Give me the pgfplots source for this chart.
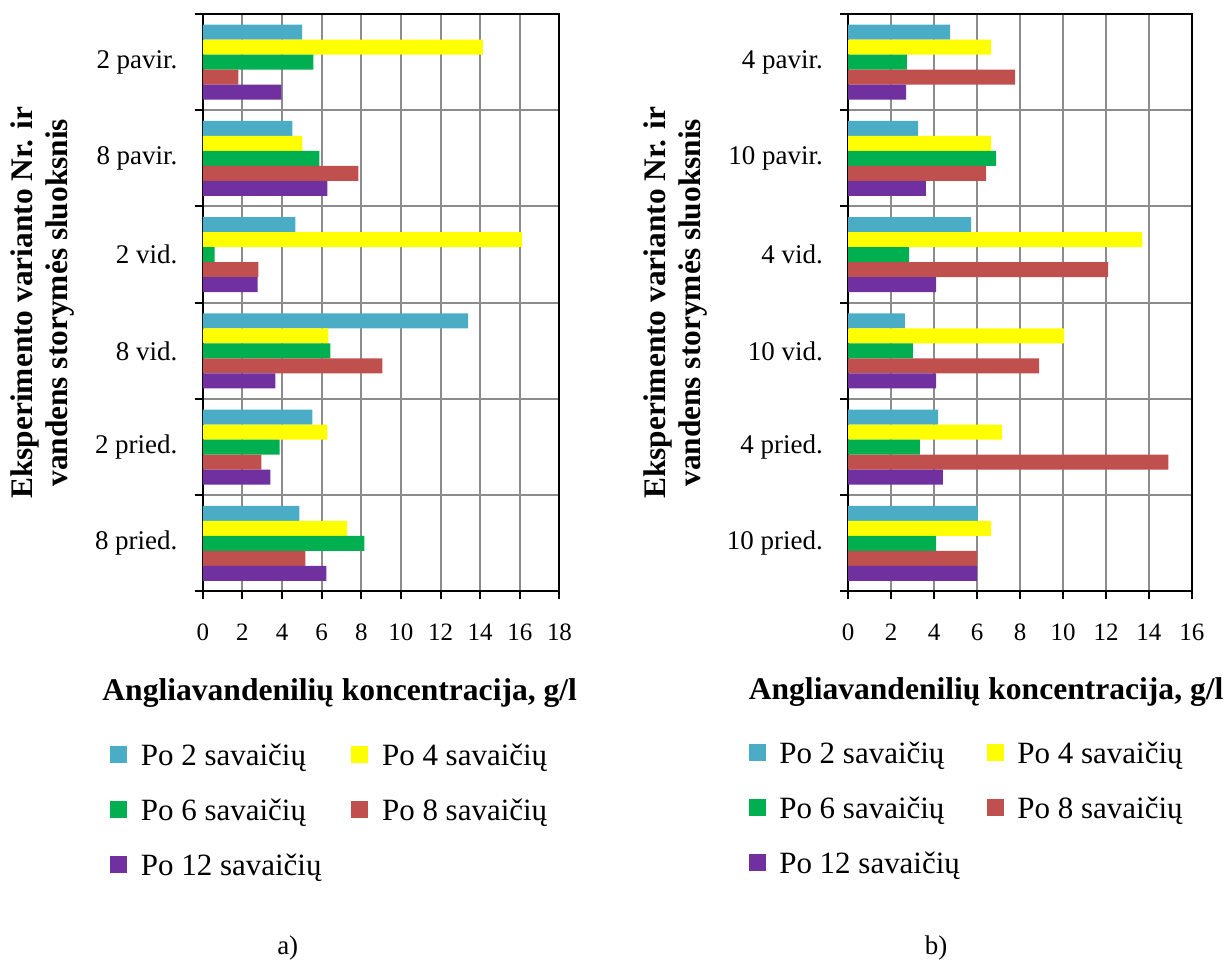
\documentclass[border=0pt]{standalone}
\usepackage{fontspec}
\setmainfont{Liberation Serif}
\usepackage{pgfplots}
\pgfplotsset{compat=1.18}
\usepackage{pgfplotstable}

\definecolor{cA}{HTML}{4BACC6}
\definecolor{cB}{HTML}{FFFF00}
\definecolor{cC}{HTML}{00B050}
\definecolor{cD}{HTML}{C0504D}
\definecolor{cE}{HTML}{7030A0}
\definecolor{gridgray}{HTML}{8C8C8C}

\pgfplotstableread{
y s2 s4 s6 s8 s12
5 5.01 14.13 5.58 1.80 3.97
4 4.52 5.03 5.88 7.85 6.29
3 4.67 16.12 0.59 2.81 2.76
2 13.39 6.34 6.44 9.06 3.66
1 5.53 6.29 3.87 2.96 3.41
0 4.87 7.28 8.15 5.18 6.24
}\lefttab

\pgfplotstableread{
y s2 s4 s6 s8 s12
5 4.74 6.65 2.73 7.77 2.69
4 3.25 6.65 6.88 6.42 3.62
3 5.72 13.69 2.83 12.10 4.09
2 2.64 10.05 3.01 8.89 4.09
1 4.18 7.16 3.34 14.90 4.41
0 6.04 6.65 4.09 6.00 6.00
}\righttab

\pgfplotsset{
  barstyle/.style={
    xbar, scale only axis, height=289pt,
    ymin=-0.5, ymax=5.5, bar width=0.156,
    ytick={-0.5,0.5,...,5.5}, yticklabels={},
    ymajorgrids, xmajorgrids,
    grid style={line width=1pt, color=gridgray},
    axis line style={line width=1pt, black},
    tick align=outside, major tick length=4pt,
    xtick pos=bottom, ytick pos=left,
    tick style={black, line width=1pt},
    /pgf/number format/assume math mode=true,
    xticklabel style={font=\fontsize{12.5}{15}\selectfont, inner sep=0pt, anchor=north, yshift=-12pt},
    extra y ticks={0,1,2,3,4,5},
    extra y tick style={major tick length=0pt, tick style={draw=none}, grid=none,
      yticklabel style={font=\fontsize{13.5}{15}\selectfont, inner sep=0pt, anchor=east, xshift=-12.5pt}},
    legend columns=2, legend cell align=left,
    legend image code/.code={\fill[##1] (0pt,-4.25pt) rectangle (8.5pt,4.25pt);},
    legend style={draw=none, fill=none, inner sep=0pt, anchor=north west,
      nodes={inner sep=0pt, anchor=west, font=\fontsize{15.5}{18}\selectfont, text height=12.5pt, text depth=2pt},
      row sep=13pt,
      /tikz/every odd column/.append style={column sep=6.8pt}},
  }
}

\begin{document}
\begin{tikzpicture}[x=1pt,y=1pt]
\path (0,0) rectangle (615,481.5);

\begin{axis}[barstyle, at={(101.5pt,185.5pt)}, anchor=south west, width=178.5pt,
  xmin=0, xmax=18, xtick={0,2,...,18},
  extra y tick labels={8 pried.,2 pried.,8 vid.,2 vid.,8 pavir.,2 pavir.},
  legend style={at={(axis description cs:-0.2605,-0.2569)},
    /tikz/every even column/.append style={column sep=15pt}}]
\addplot[fill=cA, draw=none, bar shift=0.312] table[x=s2,y=y]{\lefttab};
\addplot[fill=cB, draw=none, bar shift=0.156] table[x=s4,y=y]{\lefttab};
\addplot[fill=cC, draw=none, bar shift=0] table[x=s6,y=y]{\lefttab};
\addplot[fill=cD, draw=none, bar shift=-0.156] table[x=s8,y=y]{\lefttab};
\addplot[fill=cE, draw=none, bar shift=-0.312] table[x=s12,y=y]{\lefttab};
\legend{Po 2 savaičių, Po 4 savaičių, Po 6 savaičių, Po 8 savaičių, Po 12 savaičių}
\end{axis}

\begin{axis}[barstyle, at={(424.5pt,185.5pt)}, anchor=south west, width=172pt,
  xmin=0, xmax=16, xtick={0,2,...,16},
  extra y tick labels={10 pried.,4 pried.,10 vid.,4 vid.,10 pavir.,4 pavir.},
  legend style={at={(axis description cs:-0.2907,-0.2535)},
    /tikz/every even column/.append style={column sep=13.5pt}}]
\addplot[fill=cA, draw=none, bar shift=0.312] table[x=s2,y=y]{\righttab};
\addplot[fill=cB, draw=none, bar shift=0.156] table[x=s4,y=y]{\righttab};
\addplot[fill=cC, draw=none, bar shift=0] table[x=s6,y=y]{\righttab};
\addplot[fill=cD, draw=none, bar shift=-0.156] table[x=s8,y=y]{\righttab};
\addplot[fill=cE, draw=none, bar shift=-0.312] table[x=s12,y=y]{\righttab};
\legend{Po 2 savaičių, Po 4 savaičių, Po 6 savaičių, Po 8 savaičių, Po 12 savaičių}
\end{axis}

\node[rotate=90, align=center, font=\bfseries\fontsize{15.7}{17.5}\selectfont] at (21.5,330)
  {Eksperimento varianto Nr. ir\\vandens storymės sluoksnis};
\node[rotate=90, align=center, font=\bfseries\fontsize{15.7}{17.5}\selectfont] at (338,330)
  {Eksperimento varianto Nr. ir\\vandens storymės sluoksnis};
\node[font=\bfseries\fontsize{15.8}{18}\selectfont] at (170,134.5) {Angliavandenilių koncentracija, g/l};
\node[font=\bfseries\fontsize{15.8}{18}\selectfont] at (493.5,135) {Angliavandenilių koncentracija, g/l};
\node[font=\fontsize{13.5}{16}\selectfont] at (144,7) {a)};
\node[font=\fontsize{13.5}{16}\selectfont] at (468.5,7) {b)};
\end{tikzpicture}
\end{document}
